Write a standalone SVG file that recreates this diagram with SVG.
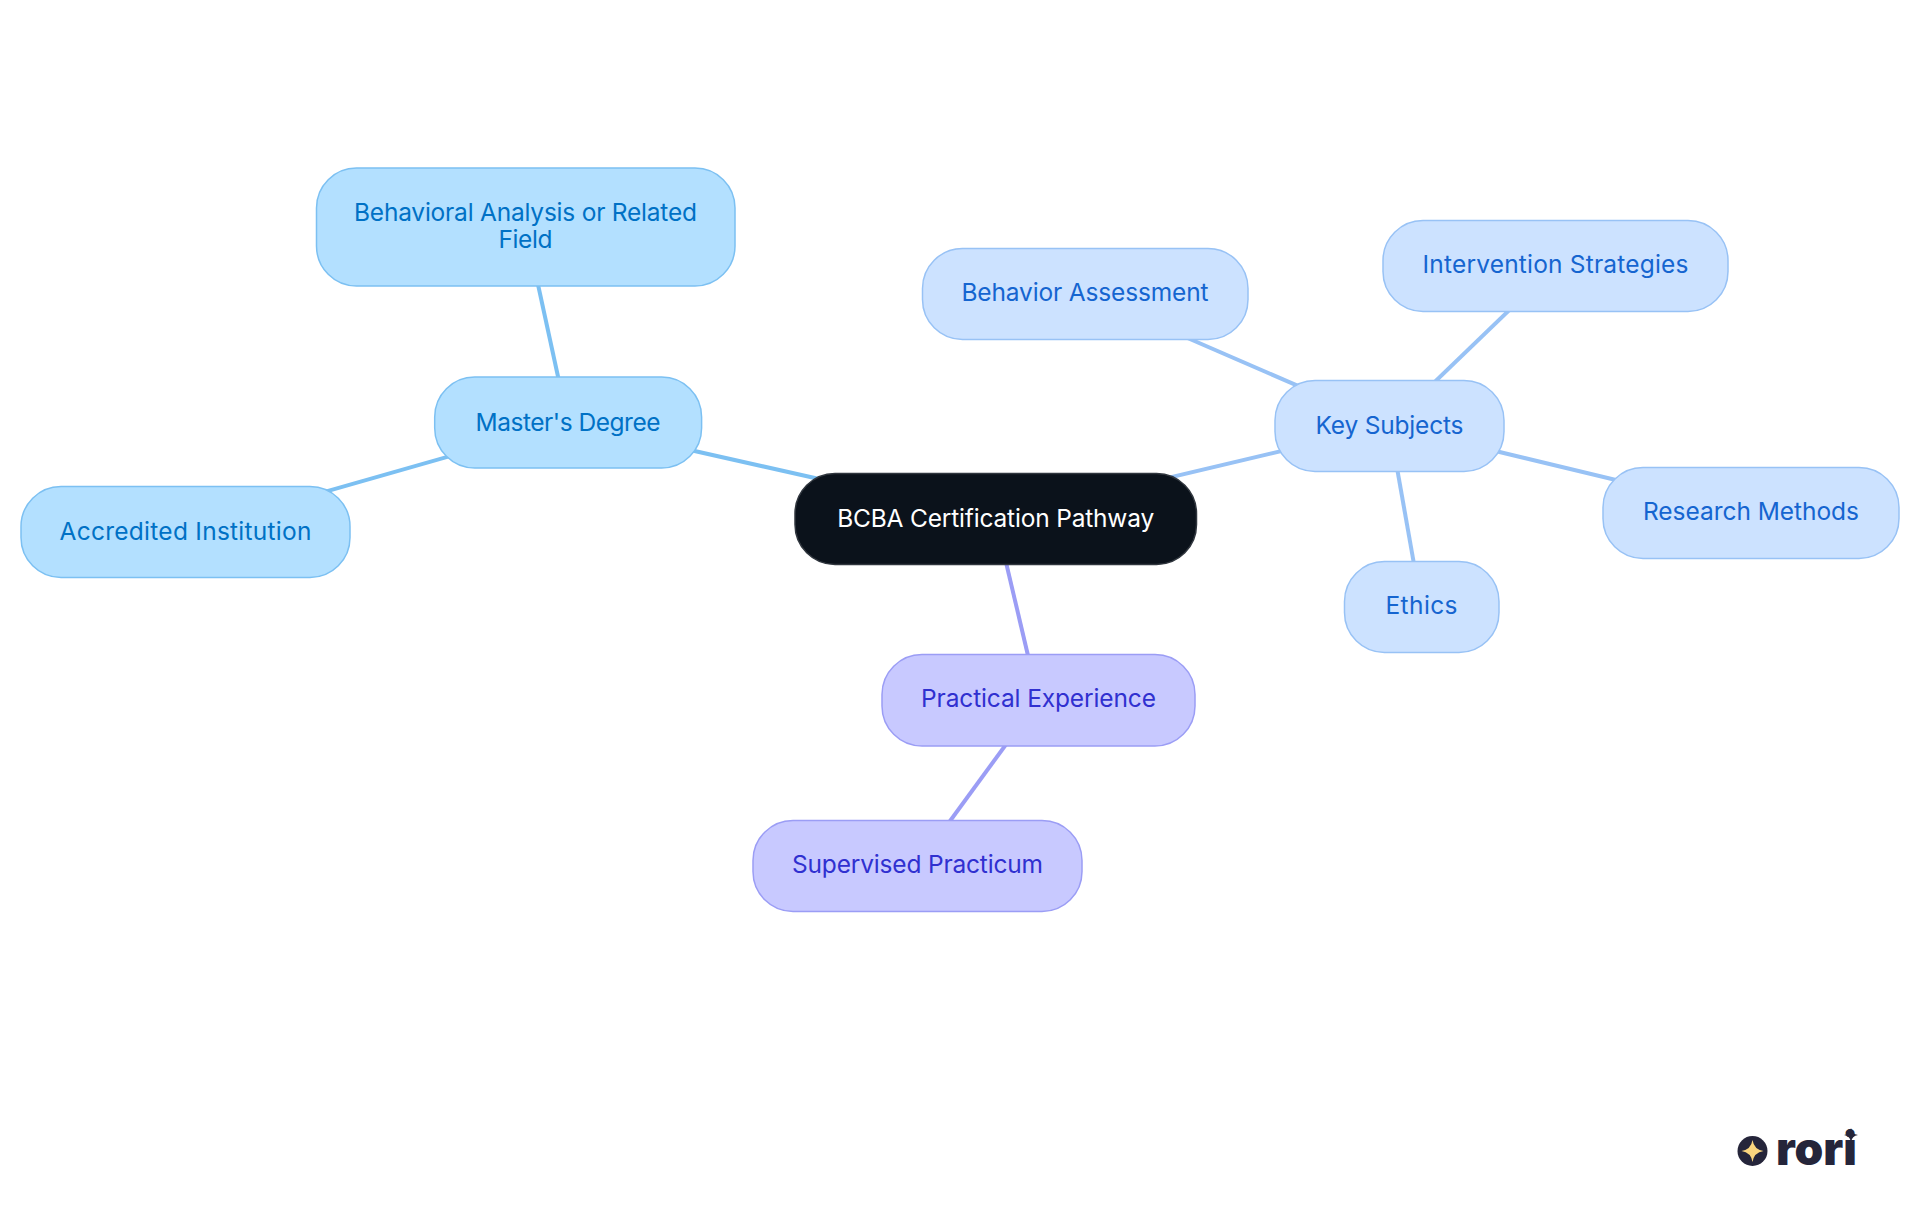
<svg xmlns="http://www.w3.org/2000/svg" width="1920" height="1215" viewBox="0 0 1920 1215">
<style>
text{font-family:"Inter","Noto Sans","Liberation Sans",sans-serif;font-size:24.5px;text-anchor:middle;font-weight:400}
.n{stroke-width:1.5}
.root rect{fill:#0b121b;stroke:#30363e}.root text{fill:#fff}
.a rect{fill:#b3e0ff;stroke:#7cc0f2}.a text{fill:#0071c5}
.b rect{fill:#cce2ff;stroke:#98c2f5}.b text{fill:#1565d0}
.c rect{fill:#c8c9ff;stroke:#9b9df5}.c text{fill:#3030d0}
#connectors line{stroke-width:4;fill:none}
.la{stroke:#7cc0f2}.lb{stroke:#98c2f5}.lc{stroke:#9b9df5}
#logo text{font-family:"Inter",sans-serif;font-weight:900;font-size:46px;text-anchor:start;fill:#25253a}
</style>
<rect width="1920" height="1215" fill="#fff"/>
<g id="connectors">
<line class="la" x1="995.7" y1="518.7" x2="568" y2="422.5"/>
<line class="la" x1="568" y1="422.5" x2="525.5" y2="227"/>
<line class="la" x1="568" y1="422.5" x2="185.5" y2="531.5"/>
<line class="lb" x1="995.7" y1="518.7" x2="1389.5" y2="425.5"/>
<line class="lb" x1="1389.5" y1="425.5" x2="1085" y2="293.5"/>
<line class="lb" x1="1389.5" y1="425.5" x2="1555.5" y2="265.5"/>
<line class="lb" x1="1389.5" y1="425.5" x2="1751" y2="512.5"/>
<line class="lb" x1="1389.5" y1="425.5" x2="1421.5" y2="606.5"/>
<line class="lc" x1="995.7" y1="518.7" x2="1038.5" y2="700"/>
<line class="lc" x1="1038.5" y1="700" x2="917.5" y2="865.5"/>
</g>
<g id="root" class="n root"><rect x="795" y="473.5" width="401.5" height="91" rx="40"/><text x="995.7" y="526.5" textLength="317">BCBA Certification Pathway</text></g>
<g id="masters" class="n a"><rect x="434.7" y="377" width="266.9" height="91" rx="40"/><text x="568" y="430.5" textLength="185">Master's Degree</text></g>
<g id="behavioral" class="n a"><rect x="316.500" y="168" width="418.500" height="118" rx="40"/><text x="525.5" y="220.5" textLength="343">Behavioral Analysis or Related</text><text x="525.5" y="247.5" textLength="54">Field</text></g>
<g id="accredited" class="n a"><rect x="21" y="486.500" width="329" height="91" rx="40"/><text x="185.5" y="539.5" textLength="252">Accredited Institution</text></g>
<g id="key" class="n b"><rect x="1275" y="380.500" width="229" height="91" rx="40"/><text x="1389.5" y="433.5" textLength="148">Key Subjects</text></g>
<g id="assessment" class="n b"><rect x="922.500" y="248.500" width="325.500" height="91" rx="40"/><text x="1085" y="301" textLength="247">Behavior Assessment</text></g>
<g id="intervention" class="n b"><rect x="1383" y="220.500" width="345" height="91" rx="40"/><text x="1555.5" y="273" textLength="266">Intervention Strategies</text></g>
<g id="research" class="n b"><rect x="1603" y="467.500" width="296" height="91" rx="40"/><text x="1751" y="520" textLength="216">Research Methods</text></g>
<g id="ethics" class="n b"><rect x="1344.500" y="561.500" width="154.500" height="91" rx="40"/><text x="1421.5" y="614" textLength="72">Ethics</text></g>
<g id="practical" class="n c"><rect x="882" y="654.500" width="313" height="91.500" rx="40"/><text x="1038.5" y="707" textLength="235">Practical Experience</text></g>
<g id="supervised" class="n c"><rect x="753" y="820.500" width="329" height="91" rx="40"/><text x="917.5" y="873" textLength="251">Supervised Practicum</text></g>
<g id="logo">
<circle cx="1752.500" cy="1151" r="15" fill="#25253a"/>
<path d="M1752.500 1140Q1754 1149.500 1763.500 1151Q1754 1152.500 1752.500 1162Q1751 1152.500 1741.500 1151Q1751 1149.500 1752.500 1140Z" fill="#fbd67e"/>
<path d="M1851 1128Q1852 1134 1858 1135Q1852 1136 1851 1142Q1850 1136 1844 1135Q1850 1134 1851 1128Z" fill="#25253a"/>
<text x="1776" y="1165" textLength="81" lengthAdjust="spacingAndGlyphs">rori</text>
</g>
</svg>
